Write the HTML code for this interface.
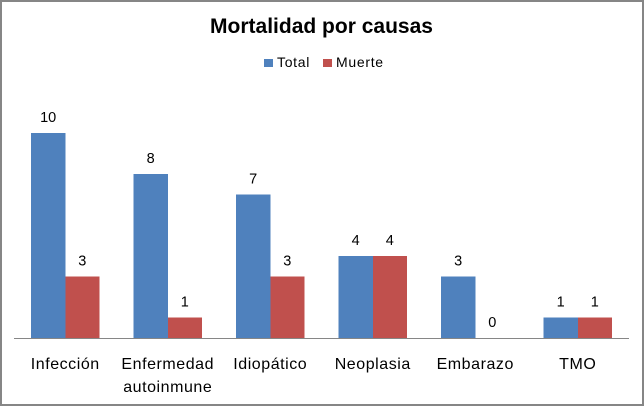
<!DOCTYPE html>
<html lang="es">
<head>
<meta charset="utf-8">
<title>Mortalidad por causas</title>
<style>
html,body{margin:0;padding:0;background:#fff;}
body{width:644px;height:406px;overflow:hidden;}
svg{display:block;font-family:"Liberation Sans",sans-serif;}
</style>
</head>
<body>
<svg id="chart" width="644" height="406" viewBox="0 0 644 406" xmlns="http://www.w3.org/2000/svg"></svg>
<script>
const categories = [["Infección"], ["Enfermedad", "autoinmune"], ["Idiopático"], ["Neoplasia"], ["Embarazo"], ["TMO"]];
const totalValues = [10, 8, 7, 4, 3, 1];
const muerteValues = [3, 1, 3, 4, 0, 1];
const seriesNames = ["Total", "Muerte"];
const chartTitle = "Mortalidad por causas";

const svg = document.getElementById('chart');
const NS = 'http://www.w3.org/2000/svg';
const colors = ['#4f81bd', '#c0504d'];
const plot = {left: 14, right: 629, base: 338, unit: 20.5};
const step = (plot.right - plot.left) / categories.length;
const barW = step / 3;
const xCat = i => plot.left + step * i + step / 2;
const yVal = v => plot.base - v * plot.unit;

function mk(tag, attrs, parent) {
  const el = document.createElementNS(NS, tag);
  for (const k in attrs) el.setAttribute(k, attrs[k]);
  (parent || svg).appendChild(el);
  return el;
}
function label(str, x, y, size, weight, anchor, spacing) {
  const t = mk('text', {x: x, y: y, 'font-size': size, 'font-weight': weight || 'normal', 'text-anchor': anchor || 'middle', fill: '#000'});
  if (spacing) t.setAttribute('letter-spacing', spacing);
  t.textContent = str;
  return t;
}

const frame = mk('rect', {x: 1, y: 1, width: 642, height: 404, fill: '#fff', stroke: '#868686', 'stroke-width': 2});



const title = label(chartTitle, 321.5, 33, 21, 'bold');



const legendX = [264, 323];
seriesNames.forEach((name, s) => {
  const sw = mk('rect', {x: legendX[s], y: 59, width: 9, height: 8, fill: colors[s]});
  
  
  const t = label(name, legendX[s] + 13, 67, 14, 'normal', 'start', 0.7);
  
  
});

[totalValues, muerteValues].forEach((vals, s) => {
  vals.forEach((v, i) => {
    const x = xCat(i) - barW + s * barW;
    const y = yVal(v);
    const bar = mk('rect', {x: x, y: y, width: barW, height: plot.base - y, fill: colors[s], 'shape-rendering': 'crispEdges'});
    
    
    const val = label(String(v), x + barW / 2, y - 11, 14.5);
    
    
  });
});

const axis = mk('line', {x1: plot.left, x2: plot.right, y1: plot.base + 0.5, y2: plot.base + 0.5, stroke: '#868686', 'stroke-width': 1});



categories.forEach((lines, i) => {
  lines.forEach((line, j) => {
    const t = label(line, xCat(i), 369 + j * 23, 16, 'normal', 'middle', 0.55);
    
    
  });
});
</script>
</body>
</html>
